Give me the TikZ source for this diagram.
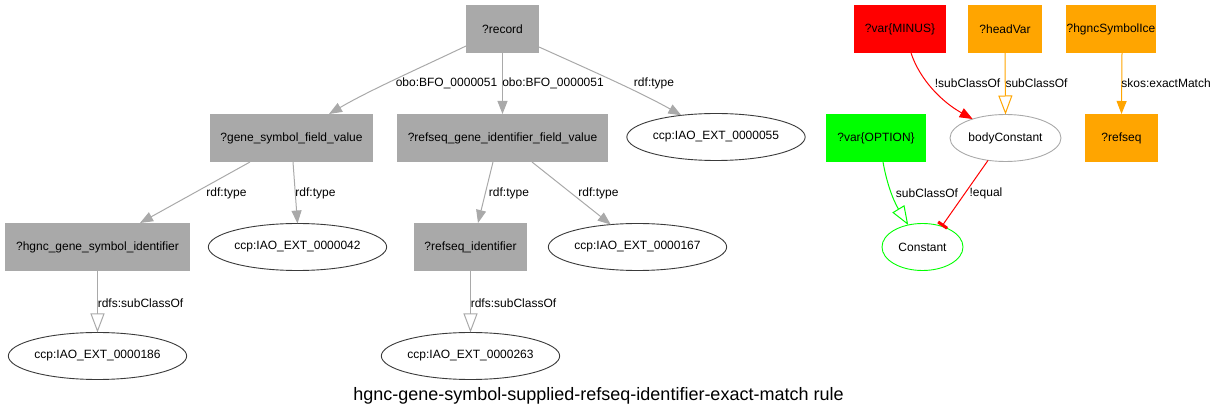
\documentclass[tikz,border=0pt]{standalone}
\usepackage{fontspec}
\setmainfont{Liberation Sans}
\usetikzlibrary{arrows.meta,calc,shapes.geometric}
\definecolor{dgray}{HTML}{A9A9A9}
\definecolor{eborder}{HTML}{3A3A3A}
\definecolor{gvred}{HTML}{FF0000}
\definecolor{gvorange}{HTML}{FFA500}
\definecolor{gvgreen}{HTML}{00FF00}
\tikzset{
  txt/.style={font=\fontsize{12}{14}\selectfont, inner sep=0pt, outer sep=0pt},
  box/.style={txt, rectangle, minimum height=48pt, fill=dgray},
  ell/.style={txt, ellipse, draw=eborder, line width=0.9pt, minimum height=47pt},
  lbl/.style={txt},
  filledtip/.style={-{Triangle[length=13pt,width=10pt]}},
  opentip/.style={-{Triangle[open,length=19pt,width=14pt]}},
  gedge/.style={draw=dgray, line width=1pt, filledtip},
  gopen/.style={draw=dgray, line width=1pt, opentip},
}
\begin{document}
\begin{tikzpicture}[x=1pt,y=-1pt]
\useasboundingbox (0,0) rectangle (1216,419);
% gray nodes
\node[box, minimum width=73pt] (record) at (502.5,29) {?record};
\node[box, minimum width=163pt] (gsf) at (291.5,138) {?gene\_symbol\_field\_value};
\node[box, minimum width=211pt] (rgfv) at (502.5,138) {?refseq\_gene\_identifier\_field\_value};
\node[ell, minimum width=168pt] (c55) at (716,137) {ccp:IAO\_EXT\_0000055};
\node[box, minimum width=185pt] (hgnc) at (97.5,247) {?hgnc\_gene\_symbol\_identifier};
\node[ell, minimum width=171pt] (c42) at (297.5,247) {ccp:IAO\_EXT\_0000042};
\node[box, minimum width=113pt] (rsid) at (470.5,247) {?refseq\_identifier};
\node[ell, minimum width=171pt] (c167) at (637.5,247) {ccp:IAO\_EXT\_0000167};
\node[ell, minimum width=171pt] (c186) at (97.5,356) {ccp:IAO\_EXT\_0000186};
\node[ell, minimum width=171pt] (c263) at (470.5,356) {ccp:IAO\_EXT\_0000263};
% right nodes
\node[box, fill=gvred, minimum width=92pt] (minus) at (900,29) {?var\{MINUS\}};
\node[box, fill=gvorange, minimum width=74pt] (headvar) at (1005,29) {?headVar};
\node[box, fill=gvorange, minimum width=90pt] (hsi) at (1111,29) {?hgncSymbolIce};
\node[box, fill=gvorange, minimum width=73pt] (refseq) at (1121.5,138) {?refseq};
\node[box, fill=gvgreen, minimum width=100pt] (option) at (876,138) {?var\{OPTION\}};
\node[ell, draw=dgray, minimum width=111pt] (bc) at (1005.5,138) {bodyConstant};
\node[ell, draw=gvgreen, minimum width=81pt] (const) at (922.5,247) {Constant};
% gray edges
\draw[gedge] ($(record.west)+(0,17)$) .. controls (420,68) and (370,90) .. ($(gsf.north)+(37.5,0)$);
\draw[gedge] (record.south) -- (rgfv.north);
\draw[gedge] ($(record.east)+(0,18)$) .. controls (590,70) and (640,92) .. (c55.148);
\draw[gedge] ($(gsf.south)+(-41.5,0)$) -- ($(hgnc.north)+(42.5,0)$);
\draw[gedge] ($(gsf.south)+(1.5,0)$) -- (c42.north);
\draw[gedge] ($(rgfv.south)+(-9.5,0)$) -- ($(rsid.north)+(7.5,0)$);
\draw[gedge] ($(rgfv.south)+(29.5,0)$) -- (c167.140);
\draw[gopen] (hgnc.south) -- (c186.north);
\draw[gopen] (rsid.south) -- (c263.north);
% coloured edges
\draw[draw=gvred, line width=1pt, filledtip] ($(minus.south)+(11,0)$) .. controls (920,80) and (942,102) .. (bc.150);
\draw[draw=gvorange, line width=1pt, opentip] (headvar.south) -- (bc.north);
\draw[draw=gvorange, line width=1pt, filledtip] ($(hsi.south)+(11,0)$) -- (refseq.north);
\draw[draw=gvgreen, line width=1pt, opentip] ($(option.south)+(7,0)$) .. controls (888,190) and (896,205) .. (const.123);
\draw[draw=gvred, line width=1pt, -{Bar[width=11pt,line width=3pt]}] (bc.232) -- (const.47);
% labels
\node[lbl] (l1) at (446.5,83) {obo:BFO\_0000051};
\node[lbl] (l2) at (553,83) {obo:BFO\_0000051};
\node[lbl] (l3) at (654,83) {rdf:type};
\node[lbl] (l4) at (226.5,193) {rdf:type};
\node[lbl] (l5) at (315.5,193) {rdf:type};
\node[lbl] (l6) at (509,193) {rdf:type};
\node[lbl] (l7) at (598.5,193) {rdf:type};
\node[lbl] (l8) at (140.5,303) {rdfs:subClassOf};
\node[lbl] (l9) at (513.5,303) {rdfs:subClassOf};
\node[lbl] (l10) at (967.5,83) {!subClassOf};
\node[lbl] (l11) at (1036.5,83) {subClassOf};
\node[lbl] (l12) at (1166,83) {skos:exactMatch};
\node[lbl] (l13) at (927,193) {subClassOf};
\node[lbl] (l14) at (986,193) {!equal};
% title
\node[inner sep=0pt, font=\fontsize{18}{20}\selectfont] (title) at (598.5,396) {hgnc-gene-symbol-supplied-refseq-identifier-exact-match rule};
\end{tikzpicture}
\end{document}
